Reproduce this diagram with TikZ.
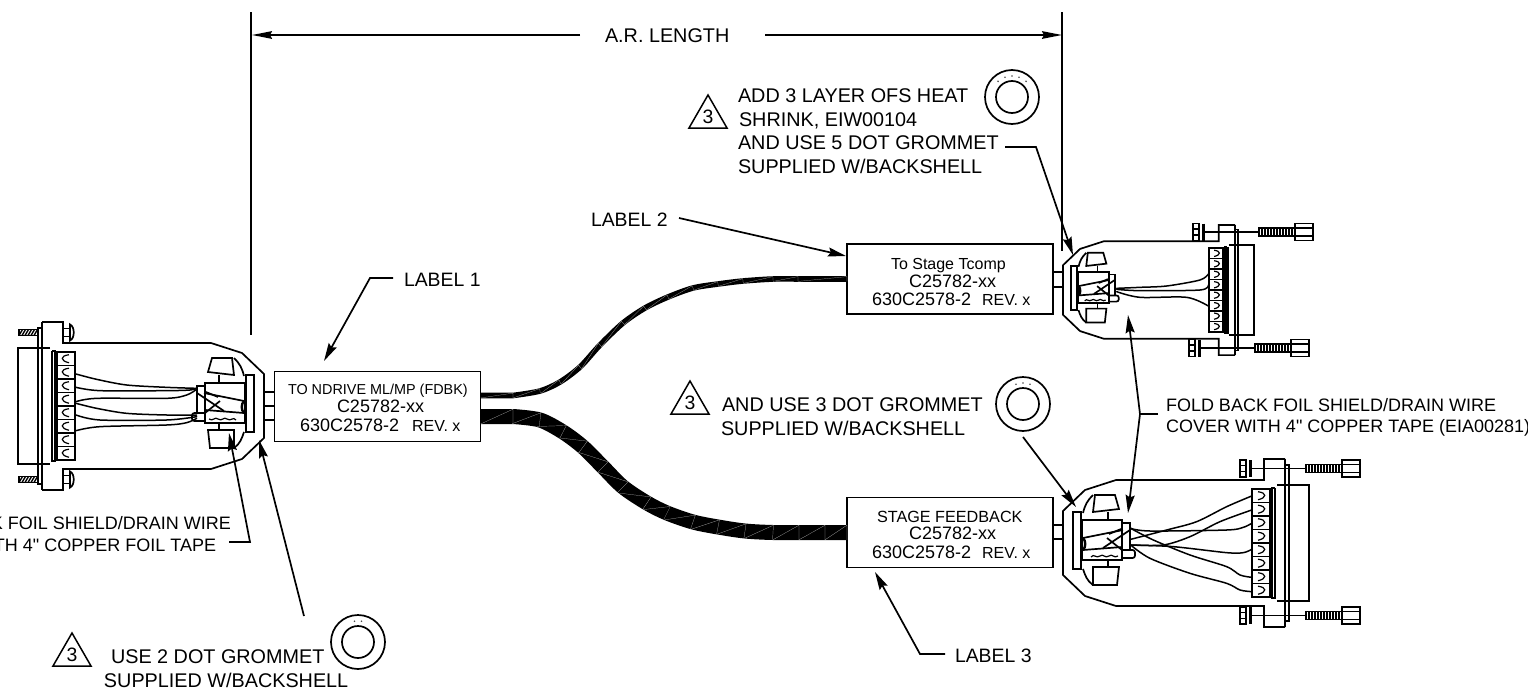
\documentclass[tikz,border=0pt]{standalone}
\usepackage{fontspec}
\setmainfont[Ligatures=TeXOff]{Liberation Sans}
\usetikzlibrary{arrows.meta}
\tikzset{
  ol/.style={line width=.85pt,line join=miter},
  thn/.style={line width=.6pt},
  wire/.style={line width=.75pt,line cap=round},
  lead/.style={line width=.85pt,-{Stealth[length=9pt,width=4.5pt,inset=1.2pt]}},
  lbl/.style={inner sep=0pt,outer sep=0pt,font=\fontsize{9.7}{11}\selectfont,anchor=base west},
  note/.style={inner sep=0pt,outer sep=0pt,font=\fontsize{9.9}{11}\selectfont,anchor=base west},
  fold/.style={inner sep=0pt,outer sep=0pt,font=\fontsize{9}{11}\selectfont},
  boxtxt/.style={inner sep=0pt,outer sep=0pt,font=\fontsize{9}{11}\selectfont,anchor=base west},
  harness/.style={draw,line width=.95pt,inner sep=0pt,outer sep=0pt,minimum width=103pt,minimum height=35pt,fill=white},
  tick/.style={line width=.1pt,draw=gray!55}
}
\newcommand\smallf{\fontsize{8}{10}\selectfont}
\newcommand\BackShell{%
  \draw[ol] (222,-84)--(201,-84)--(201,-63)--(53,-63)--(22,-53)--(0,-32)--(0,32)--(22,53)--(53,63)--(201,63)--(201,84)--(222,84);
  \draw[ol] (222,-84)--(222,84);
  \draw[ol] (222,-78) rectangle (226,78);
  \draw[ol] (214,-58)--(246,-58)--(246,58)--(214,58);
  \draw[line width=1.3pt] (212,-55)--(209,-55)--(209,55)--(212,55)--(212,-55);
  \draw[line width=1pt] (189,-54) rectangle (207,54);
  \foreach \k in {0,...,7}{
    \pgfmathsetmacro\yc{-54+13.5*\k+6.75}
    \draw[thn] (189,\yc+6.75)--(207,\yc+6.75);
    \draw[line width=.6pt] (195,\yc-4) .. controls (204,\yc-3) and (204,\yc+2) .. (195,\yc+4);
  }
  \draw[ol] (10,-31) rectangle (18,26);
  \draw[ol] (19,-23) rectangle (59,17);
  \draw[ol] (59,-20) rectangle (67,7);
  \draw[ol,rounded corners=1.2pt] (59,7)--(72,7)--(72,15)--(59,15);
  \draw[ol] (32,-48)--(52,-48)--(56,-34)--(30,-31)--cycle;
  \draw[ol] (30,42)--(54,42)--(56,24)--(30,24)--cycle;
  \draw[ol] (30,-48) .. controls (24,-42) and (22,-38) .. (20,-30);
  \draw[ol] (30,42) .. controls (24,38) and (22,32) .. (20,26);
  \draw[thn] (45,-31)--(45,-23) (45,17)--(45,24);
  \draw[ol] (20,-5)--(60,-13) (20,7)--(59,4);
  \draw[line width=1.2pt] (20,-5) .. controls (23,-2) and (23,4) .. (20,7);
  \draw[ol] (40,5)--(67,-13) (44,-5)--(59,7) (46,-9)--(58,-14);
  \draw[thn] (28,14) .. controls (31,10) and (33,16) .. (37,13) .. controls (40,10) and (42,16) .. (46,13) .. controls (49,10) and (51,16) .. (55,13);
}
\newcommand\RScrew[2]{%
  \begin{scope}[shift={(#1,#2)}]
    \draw[ol] (0,-8.5) rectangle (6,8.5);
    \draw[thn] (0,-3)--(6,-3) (0,3)--(6,3);
    \draw[line width=1.3pt] (10.5,-8.5)--(10.5,8.5);
    \draw[thn] (12,0)--(65,0);
    \draw[ol] (66,-4) rectangle (102,4);
    \foreach \u in {69,72,...,99}{\draw[line width=.8pt] (\u,-4)--(\u,4);}
    \draw[ol] (102,-8.5) rectangle (120,8.5);
    \draw[thn] (102,-4)--(120,-4) (102,4)--(120,4);
  \end{scope}}
\newcommand\LScrew[1]{%
  \begin{scope}[shift={(19,#1)}]
    \draw[thn] (0,-3) rectangle (19,3);
    \foreach \u in {0,3,...,15}{\draw[line width=.7pt] (\u,3)--(\u+3.5,-3);}
    \draw[ol] (44,-4)--(51,-4)--(51,4)--(44,4);
    \draw[ol] (51,-8) .. controls (56,-6) and (56,6) .. (51,8)--cycle;
  \end{scope}}
\newcommand\DeltaMark[3]{%
  \draw[line width=.75pt,line join=miter] (#1-19,#2+17)--(#1+19,#2+17)--(#1,#2-16)--cycle;
  \node[inner sep=0pt,font=\fontsize{9.7}{11}\selectfont] (#3) at (#1,#2+6) {3};}
\newcommand\Grommet[3]{%
  \draw[line width=.85pt] (#1,#2) circle (27);
  \draw[line width=.85pt] (#1,#2) circle (16);}
\newcommand\BandTick[5]{%
  \pgfmathsetmacro\ddx{#4-#2}\pgfmathsetmacro\ddy{#5-#3}
  \pgfmathsetmacro\lenn{sqrt(\ddx*\ddx+\ddy*\ddy)}
  \pgfmathsetmacro\nnx{-\ddy/\lenn*#1}\pgfmathsetmacro\nny{\ddx/\lenn*#1}
  \draw[tick] (#4+\nnx,#5+\nny)--(#4-\nnx,#5-\nny)--(#2+\nnx,#3+\nny);}
\begin{document}
\begin{tikzpicture}[x=.5pt,y=-.5pt]
\useasboundingbox (0,0) rectangle (1528,691);

% dimension
\coordinate (dimL) at (252,35);
\coordinate (dimR) at (1062,35);
\node[note] (arlen) at (605,42) {A.R. LENGTH};
\draw[ol] (251,12)--(251,335);
\draw[ol] (1062,12)--(1062,251);
\draw[line width=.85pt,-{Stealth[length=10pt,width=3.8pt,inset=1pt]}] (580,35)--(dimL);
\draw[line width=.85pt,-{Stealth[length=10pt,width=3.8pt,inset=1pt]}] (765,35)--(dimR);

% harness boxes
\node[harness] (box1) at (377.5,406.5) {};
\node[harness] (box2) at (950,279) {};
\node[harness] (box3) at (950,532.5) {};

% cables
\coordinate (c1a) at (481,395.5);
\coordinate (c1b) at (847,279);
\coordinate (c2a) at (481,416.5);
\coordinate (c2b) at (847,532.5);
\draw[line width=2.8pt] (c1a) -- plot[smooth,tension=.5] coordinates {(513,395.5) (540,391) (560,382) (580,367) (600,345) (623,323) (645,308) (668,297) (693,288) (718,284) (743,281) (773,279) (798,279)} -- (c1b);
\draw[line width=7.5pt] (c2a) -- plot[smooth,tension=.5] coordinates {(513,416.5) (540,420) (563,432) (583,447) (603,467) (623,487) (647,503) (667,513) (693,522) (718,527) (745,531) (773,532.5) (810,532.5)} -- (c2b);
\foreach \xa/\ya/\xb/\yb in {481/395.5/513/395.5,513/395.5/540/391,540/391/560/382,560/382/580/367,580/367/600/345,600/345/623/323,623/323/645/308,645/308/668/297,668/297/693/288,693/288/718/284,718/284/743/281,743/281/773/279,773/279/798/279,798/279/847/279}
  {\BandTick{2.4}{\xa}{\ya}{\xb}{\yb}}
\foreach \xa/\ya/\xb/\yb in {481/416.5/513/416.5,513/416.5/540/420,540/420/563/432,563/432/583/447,583/447/603/467,603/467/623/487,623/487/647/503,647/503/667/513,667/513/693/522,693/522/718/527,718/527/745/531,745/531/773/532.5,773/532.5/799/532.5,799/532.5/825/532.5,825/532.5/847/532.5}
  {\BandTick{7.3}{\xa}{\ya}{\xb}{\yb}}

% box texts
\node[boxtxt,font=\fontsize{7.2}{9}\selectfont] (t1a) at (288,394) {TO NDRIVE ML/MP (FDBK)};
\node[boxtxt] (t1b) at (337,412) {C25782-xx};
\node[boxtxt] (t1c) at (300,431) {630C2578-2\hspace{6.5pt}{\smallf REV. x}};
\node[boxtxt,font=\smallf] (t2a) at (891,269) {To Stage Tcomp};
\node[boxtxt] (t2b) at (909,287) {C25782-xx};
\node[boxtxt] (t2c) at (872,305) {630C2578-2\hspace{5.5pt}{\smallf REV. x}};
\node[boxtxt,font=\fontsize{8.1}{10}\selectfont] (t3a) at (877,522) {STAGE FEEDBACK};
\node[boxtxt] (t3b) at (909,539) {C25782-xx};
\node[boxtxt] (t3c) at (872,558) {630C2578-2\hspace{5.5pt}{\smallf REV. x}};

% links box to shell
\draw[ol] (264,392)--(274,392) (264,406)--(274,406) (264,420)--(274,420);
\draw[ol] (1053,272)--(1063,272) (1053,287)--(1063,287);
\draw[ol] (1053,525)--(1063,525) (1053,539)--(1063,539);

% connectors
\begin{scope}[shift={(264,406)},xscale=-1]\BackShell\end{scope}
\begin{scope}[shift={(1063,290)},scale=.775]\BackShell\end{scope}
\begin{scope}[shift={(1063,543)}]\BackShell\end{scope}
\LScrew{332.5}\LScrew{479.5}
\RScrew{1193}{232}\RScrew{1189}{348}
\RScrew{1240}{468.5}\RScrew{1240}{615.5}

% wires
\begin{scope}[shift={(0,300)},scale=1/3]
\foreach \pts in {
 {(228,222) (290,238) (380,255) (500,262) (590,265)},
 {(228,262) (300,272) (500,272) (570,270) (590,265)},
 {(228,305) (290,295) (500,295) (560,285) (590,268)},
 {(228,310) (290,325) (380,340) (500,345) (590,345)},
 {(228,345) (300,360) (500,360) (590,350)},
 {(228,392) (300,380) (500,375) (560,368) (590,355)}}
 {\draw[wire] plot[smooth,tension=.5] coordinates \pts;}
\end{scope}
\begin{scope}[shift={(1040,200)},scale=1/3]
\foreach \pts in {
 {(230,265) (300,262) (380,258) (480,240) (505,222)},
 {(230,268) (300,272) (480,270) (505,255)},
 {(230,275) (300,292) (440,292) (505,318)}}
 {\draw[wire] plot[smooth,tension=.5] coordinates \pts;}
\end{scope}
\begin{scope}[shift={(1040,450)},scale=1/3]
\foreach \pts in {
 {(272,268) (380,240) (470,215) (560,170) (635,138)},
 {(272,285) (370,285) (450,260) (540,215) (635,180)},
 {(272,235) (330,243) (560,240) (610,232) (635,220)},
 {(272,285) (400,290) (560,308) (610,308) (635,298)},
 {(272,235) (340,270) (450,315) (560,350) (600,375) (635,382)},
 {(272,285) (330,325) (450,370) (560,400) (600,420) (635,425)}}
 {\draw[wire] plot[smooth,tension=.5] coordinates \pts;}
\end{scope}

% labels and leaders
\node[lbl] (lab1) at (404,286) {LABEL 1};
\coordinate (k1) at (370,278); \coordinate (tip1) at (324,361);
\draw[lead] (393,278)--(k1)--(tip1);
\node[lbl] (lab2) at (591,226) {LABEL 2};
\coordinate (tip2) at (846,256);
\draw[lead] (679,218)--(tip2);
\node[lbl] (lab3) at (955,662) {LABEL 3};
\coordinate (k3) at (920,654); \coordinate (tip3) at (875,572);
\draw[lead] (945,654)--(k3)--(tip3);

% note: 5 dot
\DeltaMark{708}{111}{d5}
\node[note] (n5a) at (738,102) {ADD 3 LAYER OFS HEAT};
\node[note] (n5b) at (739,126) {SHRINK, EIW00104};
\node[note] (n5c) at (738,149) {AND USE 5 DOT GROMMET};
\node[note] (n5d) at (738,173) {SUPPLIED W/BACKSHELL};
\Grommet{1012}{97}{5}
\foreach \d in {-14,-7,0,7,14}{\fill[gray!60!black] ({1012+\d},{97-sqrt(441-\d*\d)}) circle (.9);}
\coordinate (k5) at (1036,147); \coordinate (tip5) at (1073,255);
\draw[lead] (1005,147)--(k5)--(tip5);

% note: 3 dot
\DeltaMark{690}{397}{d6}
\node[note] (n3a) at (722,411) {AND USE 3 DOT GROMMET};
\node[note] (n3b) at (721,435) {SUPPLIED W/BACKSHELL};
\Grommet{1023}{404}{3}
\foreach \d in {-7,0,7}{\fill[gray!60!black] ({1023+\d},{404-sqrt(441-\d*\d)}) circle (.9);}
\coordinate (tip6) at (1076,507);
\draw[lead] (1023,437)--(tip6);

% note: 2 dot
\DeltaMark{72}{649}{d7}
\node[note] (n2a) at (111,663) {USE 2 DOT GROMMET};
\node[note] (n2b) at (104,687) {SUPPLIED W/BACKSHELL};
\Grommet{358}{642}{2}
\foreach \d in {-3.5,3.5}{\fill[gray!60!black] ({358+\d},{642-sqrt(441-\d*\d)}) circle (.9);}
\coordinate (tip7) at (259,440);
\draw[lead] (304,616)--(tip7);

% fold back notes
\node[fold,anchor=base west] (f1a) at (1166,411) {FOLD BACK FOIL SHIELD/DRAIN WIRE};
\node[fold,anchor=base west] (f1b) at (1166,432) {COVER WITH 4" COPPER TAPE (EIA00281)};
\coordinate (j1) at (1140,414); \coordinate (tipU) at (1128,315); \coordinate (tipD) at (1128,513);
\draw[line width=.85pt] (1158,414)--(j1);
\draw[lead] (j1)--(tipU);
\draw[lead] (j1)--(tipD);
\node[fold,anchor=base east] (f2a) at (231,529) {K FOIL SHIELD/DRAIN WIRE};
\node[fold,anchor=base east] (f2b) at (216,551) {TH 4" COPPER FOIL TAPE};
\coordinate (k8) at (250,542); \coordinate (tip8) at (229,433);
\draw[lead] (229,542)--(k8)--(tip8);
\end{tikzpicture}
\end{document}
